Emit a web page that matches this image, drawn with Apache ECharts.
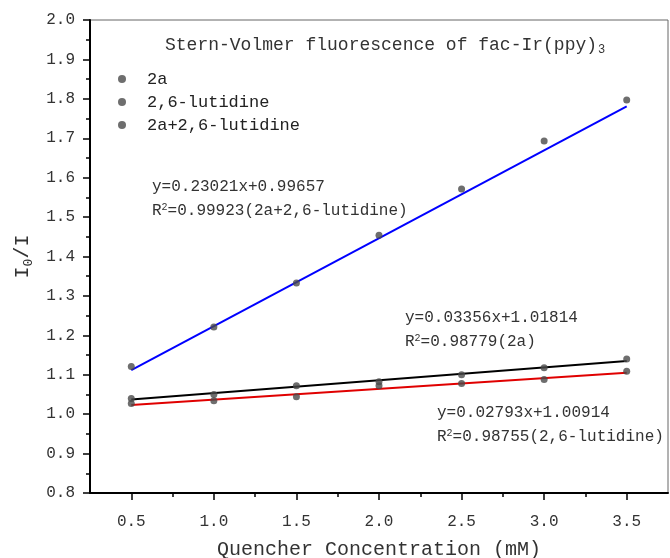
<!DOCTYPE html>
<html>
<head>
<meta charset="utf-8">
<script src="https://cdn.jsdelivr.net/npm/echarts@6/dist/echarts.min.js"></script>
<style>html,body{margin:0;padding:0;background:#fff;}#c{width:670px;height:558px;}</style>
</head>
<body>
<div id="c"></div>
<script>
// ---- data ----
const xValues = [0.5, 1.0, 1.5, 2.0, 2.5, 3.0, 3.5];
const y2a = [1.040, 1.050, 1.072, 1.082, 1.100, 1.118, 1.140];
const yLut = [1.027, 1.034, 1.044, 1.072, 1.078, 1.088, 1.109];
const yMix = [1.121, 1.221, 1.333, 1.454, 1.571, 1.693, 1.797];
const fitX = [0.5, 3.5];
const fit2a = [1.037, 1.135];
const fitLut = [1.023, 1.105];
const fitMix = [1.112, 1.781];
const seriesNames = ['2a', '2,6-lutidine', '2a+2,6-lutidine'];
const xMajorTicks = [0.5, 1.0, 1.5, 2.0, 2.5, 3.0, 3.5];
const xMinorTicks = [0.75, 1.25, 1.75, 2.25, 2.75, 3.25];
const titleMain = 'Stern-Volmer fluorescence of fac-Ir(ppy)';
const titleSub = '3';
const xName = 'Quencher Concentration (mM)';
const eq2a = ['y=0.03356x+1.01814', '=0.98779(2a)'];
const eqLut = ['y=0.02793x+1.00914', '=0.98755(2,6-lutidine)'];
const eqMix = ['y=0.23021x+0.99657', '=0.99923(2a+2,6-lutidine)'];

const FONT = '"Liberation Mono", "DejaVu Sans Mono", monospace';
const TXT = '#333';
const PT = '#4a4a4a';

function pairs(xs, ys) { return xs.map((x, i) => [x, ys[i]]); }

const chart = echarts.init(document.getElementById('c'), null, {renderer: 'canvas'});

function eqText(x, y, lines) {
  return [
    {type: 'text', x: x, y: y, style: {text: lines[0], fill: TXT, font: '16px ' + FONT, verticalAlign: 'middle'}},
    {type: 'text', x: x, y: y + 24, style: {
      text: '{n|R}{s|2}{n|' + lines[1] + '}', verticalAlign: 'middle', fill: TXT,
      rich: {
        n: {fontFamily: FONT, fontSize: 16, color: TXT},
        s: {fontFamily: FONT, fontSize: 10, color: TXT, verticalAlign: 'top', padding: [0, 0, 8, 0]}
      }
    }}
  ];
}

const option = {
  animation: false,
  backgroundColor: '#fff',
  title: {
    text: '{m|' + titleMain + '}{s|' + titleSub + '}',
    left: 160, top: 29,
    textStyle: {
      rich: {
        m: {fontFamily: FONT, fontSize: 18, color: TXT, fontWeight: 'normal'},
        s: {fontFamily: FONT, fontSize: 12, color: TXT, fontWeight: 'normal', padding: [10, 0, 0, 1]}
      }
    }
  },
  legend: {
    orient: 'vertical', left: 113, top: 65,
    itemWidth: 8, itemHeight: 8, itemGap: 5,
    icon: 'circle',
    data: seriesNames,
    textStyle: {fontFamily: FONT, fontSize: 17, color: '#222', padding: [0, 0, 0, 16], lineHeight: 18}
  },
  grid: {left: 90, right: 2, top: 20, bottom: 65, show: true, borderColor: '#666', borderWidth: 1,
    backgroundColor: 'transparent', containLabel: false, outerBoundsMode: 'none'},
  xAxis: [{
    type: 'value', min: 0.25, max: 3.75,
    name: xName, nameLocation: 'middle', nameGap: 47,
    nameTextStyle: {fontFamily: FONT, fontSize: 20, color: TXT},
    axisLine: {show: true, onZero: false, lineStyle: {color: '#000', width: 2}},
    axisTick: {show: true, length: 7, customValues: xMajorTicks, lineStyle: {color: '#000', width: 1.5}},
    axisLabel: {customValues: xMajorTicks, margin: 21, fontFamily: FONT, fontSize: 16, color: TXT,
      formatter: v => v.toFixed(1)},
    splitLine: {show: false}
  }, {
    type: 'value', min: 0.25, max: 3.75, position: 'bottom',
    axisLine: {show: false},
    axisTick: {show: true, length: 4, customValues: xMinorTicks, lineStyle: {color: '#000', width: 1.5}},
    axisLabel: {show: false},
    splitLine: {show: false}
  }],
  yAxis: {
    type: 'value', min: 0.8, max: 2.0, interval: 0.1,
    name: '{a|I}{b|0}{a|/I}', nameLocation: 'middle', nameGap: 52, nameRotate: 90,
    nameTextStyle: {
      rich: {
        a: {fontFamily: FONT, fontSize: 20, color: TXT},
        b: {fontFamily: FONT, fontSize: 13, color: TXT, padding: [12, 0, 0, 0]}
      }
    },
    axisLine: {show: true, onZero: false, lineStyle: {color: '#000', width: 2}},
    axisTick: {show: true, length: 7, lineStyle: {color: '#000', width: 1.5}},
    minorTick: {show: true, splitNumber: 2, length: 4, lineStyle: {color: '#000', width: 1.5}},
    axisLabel: {margin: 15, fontFamily: FONT, fontSize: 16, color: TXT, formatter: v => v.toFixed(1)},
    splitLine: {show: false}
  },
  series: [
    {name: 'fit2a', type: 'line', data: pairs(fitX, fit2a), symbol: 'none', lineStyle: {color: '#000', width: 2}, z: 2},
    {name: 'fitLut', type: 'line', data: pairs(fitX, fitLut), symbol: 'none', lineStyle: {color: '#e00000', width: 2}, z: 2},
    {name: 'fitMix', type: 'line', data: pairs(fitX, fitMix), symbol: 'none', lineStyle: {color: '#0000ff', width: 2}, z: 2},
    {name: seriesNames[0], type: 'scatter', data: pairs(xValues, y2a), symbolSize: 7, itemStyle: {color: PT}, z: 3},
    {name: seriesNames[1], type: 'scatter', data: pairs(xValues, yLut), symbolSize: 7, itemStyle: {color: PT}, z: 3},
    {name: seriesNames[2], type: 'scatter', data: pairs(xValues, yMix), symbolSize: 7, itemStyle: {color: PT}, z: 3}
  ],
  graphic: [].concat(
    eqText(152, 187, eqMix),
    eqText(405, 318, eq2a),
    eqText(437, 413, eqLut)
  )
};
chart.setOption(option);
</script>
</body>
</html>
